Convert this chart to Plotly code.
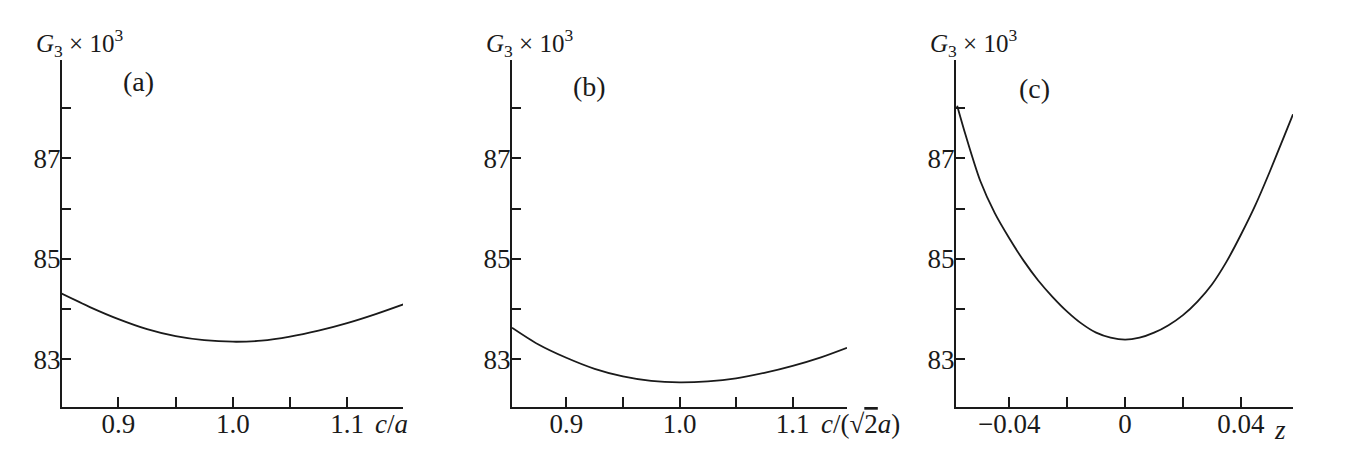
import plotly.graph_objects as go

# ---- data ----
xa = [0.85, 0.875, 0.9, 0.925, 0.95, 0.975, 1.0, 1.025, 1.05, 1.075, 1.1, 1.125, 1.15]
ga = [84.31, 84.04, 83.80, 83.60, 83.46, 83.38, 83.35, 83.37, 83.45, 83.57, 83.72, 83.90, 84.10]

xb = [0.852, 0.875, 0.9, 0.925, 0.95, 0.975, 1.0, 1.025, 1.05, 1.075, 1.1, 1.125, 1.148]
gb = [83.63, 83.30, 83.03, 82.81, 82.66, 82.57, 82.54, 82.56, 82.62, 82.73, 82.87, 83.04, 83.23]

zc = [-0.058, -0.055, -0.050, -0.045, -0.040, -0.035, -0.030, -0.025, -0.020, -0.015,
      -0.010, -0.005, 0.0, 0.005, 0.010, 0.015, 0.020, 0.025, 0.030, 0.035, 0.040,
      0.045, 0.050, 0.055, 0.058]
gc = [88.05, 87.45, 86.55, 85.91, 85.41, 84.96, 84.57, 84.24, 83.95, 83.71,
      83.53, 83.43, 83.39, 83.43, 83.53, 83.68, 83.88, 84.15, 84.49, 84.94, 85.48,
      86.07, 86.74, 87.45, 87.88]

y_tickvals = [83, 84, 85, 86, 87, 88]
y_ticktext = ["83", "", "85", "", "87", ""]
xab_tickvals = [0.9, 0.95, 1.0, 1.05, 1.1]
xab_ticktext = ["0.9", "", "1.0", "", "1.1"]
xc_tickvals = [-0.04, -0.02, 0.0, 0.02, 0.04]
xc_ticktext = ["\u22120.04", "", "0", "", "0.04"]
panel_labels = ["(a)", "(b)", "(c)"]
x_titles = ["<i>c</i>/<i>a</i>",
            "<i>c</i>/(\u221a<span style='text-decoration:overline'>2</span><i>a</i>)",
            "<i>z</i>"]
y_title = "<i>G</i><sub>3</sub> \u00d7 10<sup>3</sup>"

W, H = 1346, 472
OFF = 8  # page body margin of the browser
SERIF = "Liberation Serif, Times New Roman, serif"
INK = "#1a1a1a"

def px(x):
    return (x - OFF) / W

def py(y):
    return 1 - (y - OFF) / H

# pixel geometry of the three panels (in screenshot pixels)
panels = [
    dict(x0=62, x1=403, xr=[0.8506, 1.1489]),
    dict(x0=512, x1=847, xr=[0.852, 1.148]),
    dict(x0=956, x1=1293, xr=[-0.0584, 0.058]),
]
y_top, y_bot = 60, 407
y_range = [82.05, 88.96]

fig = go.Figure()
series = [(xa, ga), (xb, gb), (zc, gc)]
for i, (xs, ys) in enumerate(series):
    sfx = "" if i == 0 else str(i + 1)
    fig.add_trace(go.Scatter(x=xs, y=ys, mode="lines",
                             line=dict(color=INK, width=1.8, shape="spline", smoothing=0.8),
                             xaxis="x" + sfx, yaxis="y" + sfx, showlegend=False, hoverinfo="skip",
                             cliponaxis=False))

layout = dict(width=W, height=H, margin=dict(l=0, r=0, t=0, b=0),
              paper_bgcolor="white", plot_bgcolor="white", showlegend=False)

for i, p in enumerate(panels):
    sfx = "" if i == 0 else str(i + 1)
    tv = xc_tickvals if i == 2 else xab_tickvals
    tt = xc_ticktext if i == 2 else xab_ticktext
    layout["xaxis" + sfx] = dict(
        domain=[px(p["x0"]), px(p["x1"])], range=p["xr"], anchor="y" + sfx,
        showgrid=False, zeroline=False, showline=True, linecolor=INK, linewidth=2,
        ticks="inside", ticklen=10, tickwidth=1.5, tickcolor=INK,
        tickvals=tv, ticktext=tt, tickfont=dict(family=SERIF, size=27, color=INK),
        ticklabelstandoff=-8, fixedrange=True)
    layout["yaxis" + sfx] = dict(
        domain=[py(y_bot), py(y_top)], range=y_range, anchor="x" + sfx,
        showgrid=False, zeroline=False, showline=True, linecolor=INK, linewidth=2,
        ticks="inside", ticklen=9, tickwidth=1.5, tickcolor=INK,
        tickvals=y_tickvals, ticktext=y_ticktext, tickfont=dict(family=SERIF, size=27, color=INK),
        ticklabelstandoff=-6, fixedrange=True)

annotations = []
label_pos = [(138, 81), (589, 86), (1034, 88)]
xt_pos = [(373, 424), (819, 424), (1272, 430)]
for i, p in enumerate(panels):
    annotations.append(dict(x=px(p["x0"] - 28), y=py(43), xref="paper", yref="paper",
                            text=y_title, showarrow=False, xanchor="left", yanchor="middle",
                            font=dict(family=SERIF, size=25, color=INK)))
    lx, ly = label_pos[i]
    annotations.append(dict(x=px(lx), y=py(ly), xref="paper", yref="paper",
                            text=panel_labels[i], showarrow=False, xanchor="center", yanchor="middle",
                            font=dict(family=SERIF, size=28, color=INK)))
    tx, ty = xt_pos[i]
    annotations.append(dict(x=px(tx), y=py(ty), xref="paper", yref="paper",
                            text=x_titles[i], showarrow=False, xanchor="left", yanchor="middle",
                            font=dict(family=SERIF, size=27, color=INK)))
layout["annotations"] = annotations
fig.update_layout(**layout)
fig.write_html("out.html")
